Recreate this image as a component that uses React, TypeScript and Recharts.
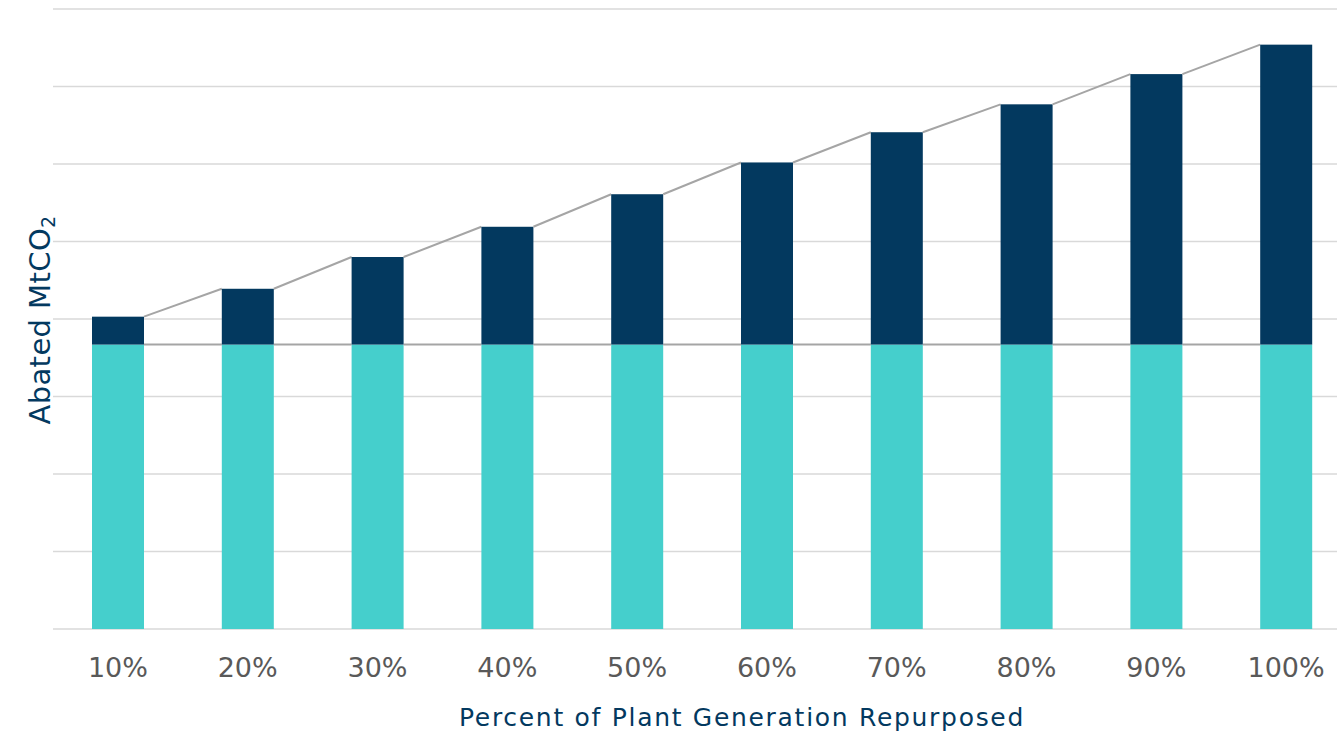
import React from 'react';
import { ComposedChart, Bar, XAxis, YAxis, CartesianGrid, Label } from 'recharts';

// values (units = one gridline step)
const categories = ['10%', '20%', '30%', '40%', '50%', '60%', '70%', '80%', '90%', '100%'];
const baseAbated = [3.67, 3.67, 3.67, 3.67, 3.67, 3.67, 3.67, 3.67, 3.67, 3.67];
const addedAbated = [0.36, 0.72, 1.13, 1.52, 1.94, 2.35, 2.74, 3.1, 3.49, 3.87];
const yTicks = [0, 1, 2, 3, 4, 5, 6, 7, 8];

const data = categories.map((c, i) => ({ pct: c, base: baseAbated[i], added: addedAbated[i] }));

const NAVY = '#03395f';
const TEAL = '#45cfcc';
const SERIES_LINE = '#a5a5a5';
const FONT = '"DejaVu Sans", Verdana, sans-serif';

// Excel style "series lines": join the top right corner of a bar to the top left of the next one
const makeShape = (store: any[]) => (props: any) => {
    const { x, y, width, height, index, fill } = props;
    if (index === 0) store.length = 0;
    store[index] = { x, y, width };
    const prev = store[index - 1];
    return (
        <g>
            {prev && (
                <line x1={prev.x + prev.width} y1={prev.y} x2={x} y2={y} stroke={SERIES_LINE} strokeWidth={2} />
            )}
            <rect x={x} y={y} width={width} height={height} fill={fill} />
        </g>
    );
};

const baseTops: any[] = [];
const addedTops: any[] = [];
const BaseShape = makeShape(baseTops);
const AddedShape = makeShape(addedTops);

const PctTick = (props: any) => {
    const { x, y, payload } = props;
    return (
        <text x={x} y={y + 48} textAnchor="middle" fill="#595959" fontSize={27} fontFamily={FONT}>
            {payload.value}
        </text>
    );
};

const NoTick = () => <g />;

const YTitle = () => {
    const cx = 50;
    const cy = 320;
    return (
        <text x={cx} y={cy} transform={`rotate(-90 ${cx} ${cy})`} textAnchor="middle" fill={NAVY} fontSize={29} fontFamily={FONT} letterSpacing={0.4}>
            Abated MtCO<tspan fontSize={19} dy={5}>2</tspan>
        </text>
    );
};

const XTitle = () => (
    <text x={742} y={726} textAnchor="middle" fill={NAVY} fontSize={25} fontFamily={FONT} letterSpacing={1.7}>
        Percent of Plant Generation Repurposed
    </text>
);

export default function App() {
    return (
        <div style={{ position: 'fixed', left: 0, top: 0, width: 1337, height: 736, overflow: 'hidden', background: '#fff' }}>
            <ComposedChart width={1360} height={736} data={data} margin={{ top: 9, right: 9, bottom: 0, left: 0 }} barSize={52}>
                <CartesianGrid horizontal vertical={false} stroke="#d9d9d9" strokeWidth={1.5} />
                <XAxis dataKey="pct" axisLine={false} tickLine={false} tickSize={0} tickMargin={0} tick={<PctTick />} height={107} interval={0}>
                    <Label content={<XTitle />} />
                </XAxis>
                <YAxis width={53} domain={[0, 8]} ticks={yTicks} tick={<NoTick />} axisLine={false} tickLine={false}>
                    <Label content={<YTitle />} />
                </YAxis>
                <Bar dataKey="base" stackId="a" fill={TEAL} shape={BaseShape} isAnimationActive={false} />
                <Bar dataKey="added" stackId="a" fill={NAVY} shape={AddedShape} isAnimationActive={false} />
            </ComposedChart>
        </div>
    );
}
